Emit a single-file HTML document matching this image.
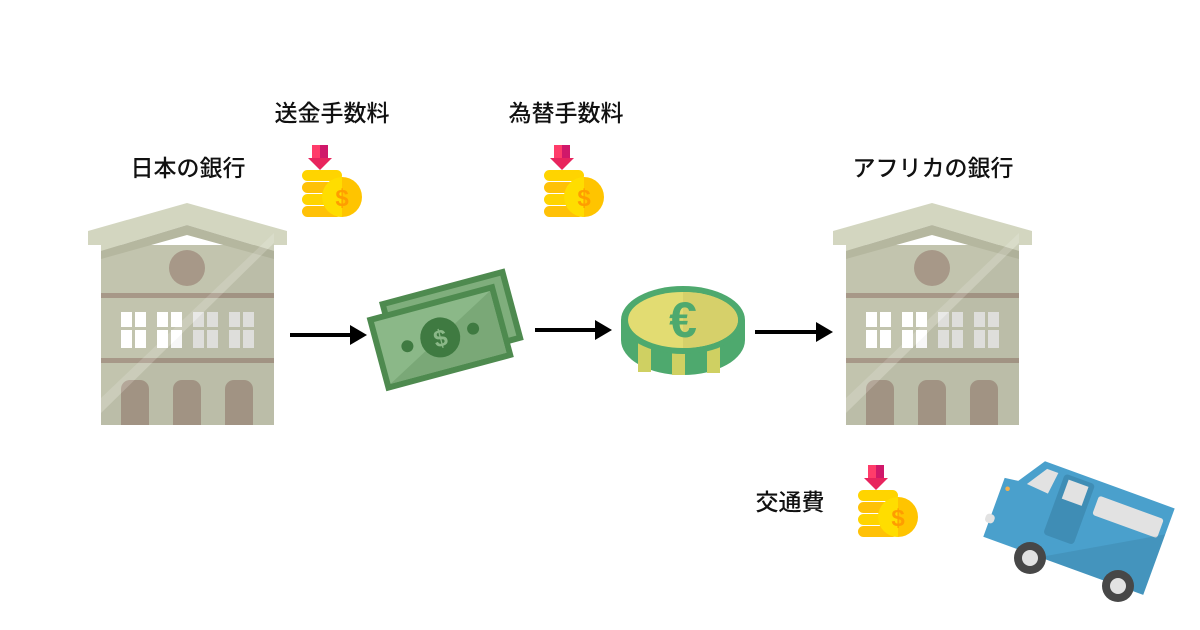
<!DOCTYPE html>
<html><head><meta charset="utf-8"><style>
body{margin:0;background:#fff;}
svg{display:block;}
text{font-family:"Liberation Sans","Noto Sans CJK JP",sans-serif;font-size:23px;font-weight:500;fill:#111;}
</style></head><body>
<svg width="1200" height="630" viewBox="0 0 1200 630" xmlns="http://www.w3.org/2000/svg">
<defs>
<g id="bank">
  <rect x="13" y="42" width="173" height="180" fill="#c2c4ae"/>
  <polygon points="0,28 99,0 199,28 199,42 186,42 186,48 99,22 13,48 13,42 0,42" fill="#d3d6c0"/>
  <polygon points="13,48 99,22 186,48 186,56 99,32 13,56" fill="#b5b79f"/>
  <circle cx="99" cy="65" r="18" fill="#a79888"/>
  <rect x="13" y="90" width="173" height="5" fill="#a79888"/>
  <g fill="#fff">
    <rect x="33" y="109" width="25" height="36"/><rect x="69" y="109" width="25" height="36"/>
    <rect x="105" y="109" width="25" height="36" fill="#e6e6e3"/><rect x="141" y="109" width="25" height="36" fill="#e6e6e3"/>
  </g>
  <g fill="#c2c4ae"><rect x="44" y="109" width="3" height="36"/><rect x="80" y="109" width="3" height="36"/><rect x="116" y="109" width="3" height="36"/><rect x="152" y="109" width="3" height="36"/>
  <rect x="33" y="124" width="133" height="3"/></g>
  <rect x="13" y="155" width="173" height="5" fill="#a79888"/>
  <path d="M33 222V186a9 9 0 0 1 9-9h10a9 9 0 0 1 9 9v36z" fill="#a79888"/>
  <path d="M85 222V186a9 9 0 0 1 9-9h10a9 9 0 0 1 9 9v36z" fill="#a79888"/>
  <path d="M137 222V186a9 9 0 0 1 9-9h10a9 9 0 0 1 9 9v36z" fill="#a79888"/>
  <polygon points="13,210 186,40 186,30 13,195" fill="#fff" opacity="0.15"/>
  <polygon points="13,222 13,210 186,40 186,222" fill="#000" opacity="0.03"/>
</g>
<g id="coins">
  <rect x="-8" y="-25" width="8" height="14" fill="#ff3c6a"/><rect x="0" y="-25" width="8" height="14" fill="#d0186a"/>
  <polygon points="-12,-12 12,-12 0,0" fill="#e8245e"/>
  <rect x="-18" y="0" width="40" height="11" rx="5.5" fill="#ffd400"/>
  <rect x="-18" y="12" width="40" height="11" rx="5.5" fill="#ffc107"/>
  <rect x="-18" y="24" width="40" height="11" rx="5.5" fill="#ffd400"/>
  <rect x="-18" y="36" width="40" height="11" rx="5.5" fill="#ffc107"/>
  <circle cx="22" cy="27" r="20" fill="#ffc400"/>
  <path d="M22 7a20 20 0 0 0 0 40z" fill="#ffdd00"/>
  <text x="22" y="36" text-anchor="middle" style="font-size:24px;font-weight:bold;fill:#ff9d00">$</text>
</g>
</defs>

<use href="#bank" x="88" y="203"/>
<use href="#bank" x="833" y="203"/>

<use href="#coins" x="320" y="170"/>
<use href="#coins" x="562" y="170"/>
<use href="#coins" x="876" y="490"/>

<text x="188" y="176" text-anchor="middle">日本の銀行</text>
<text x="332" y="121" text-anchor="middle">送金手数料</text>
<text x="566" y="121" text-anchor="middle">為替手数料</text>
<text x="933" y="176" text-anchor="middle">アフリカの銀行</text>
<text x="790" y="510" text-anchor="middle">交通費</text>

<g stroke="#000" stroke-width="4" fill="#000">
  <line x1="290" y1="335" x2="352" y2="335"/><polygon points="350,325 367,335 350,345" stroke="none"/>
  <line x1="535" y1="330" x2="597" y2="330"/><polygon points="595,320 612,330 595,340" stroke="none"/>
  <line x1="755" y1="332" x2="818" y2="332"/><polygon points="816,322 833,332 816,342" stroke="none"/>
</g>

<!-- money -->
<g transform="translate(445,332) rotate(-15)">
  <rect x="-56" y="-46" width="130" height="74" fill="#4e8a4f"/>
  <rect x="-50" y="-40" width="118" height="62" fill="#7fae7c"/>
  <rect x="-72" y="-34" width="132" height="76" fill="#4e8a4f"/>
  <rect x="-66" y="-28" width="120" height="64" fill="#8bb888"/>
  <polygon points="-66,36 54,-28 54,36" fill="#7aa877"/>
  <circle cx="-6" cy="4" r="20" fill="#3f7a41"/>
  <text x="-6" y="13" text-anchor="middle" style="font-size:24px;font-weight:bold;fill:#8bb888">$</text>
  <circle cx="-40" cy="4" r="6" fill="#3f7a41"/><circle cx="28" cy="4" r="6" fill="#3f7a41"/>
</g>

<!-- euro coin -->
<g>
  <path d="M621 320v20a62 35 0 0 0 124 0v-20z" fill="#4ea96e"/>
  <rect x="638" y="340" width="13" height="32" fill="#cfd062"/>
  <rect x="672" y="345" width="13" height="30" fill="#cfd062"/>
  <rect x="707" y="343" width="13" height="30" fill="#cfd062"/>
  <ellipse cx="683" cy="320" rx="62" ry="34" fill="#4ea96e"/>
  <ellipse cx="683" cy="320" rx="55" ry="28" fill="#e2dc72"/>
  <path d="M683 292a55 28 0 0 1 0 56z" fill="#d6d06a"/>
  <text x="683" y="337" text-anchor="middle" style="font-size:50px;font-weight:bold;fill:#4ea96e">€</text>
</g>

<!-- bus -->
<g transform="translate(1078,532) rotate(20) scale(0.92)">
  <polygon points="-80,-30 -60,-60 90,-60 90,40 -95,40 -95,-28" fill="#4aa0cc"/>
  <polygon points="-70,-30 -55,-53 -42,-53 -45,-28" fill="#e2e2e2"/>
  <rect x="-35" y="-55" width="35" height="70" rx="4" fill="#3f8db5"/>
  <rect x="-29" y="-50" width="23" height="22" fill="#e2e2e2"/>
  <rect x="8" y="-45" width="75" height="22" rx="3" fill="#e2e2e2"/>
  <polygon points="-30,40 90,-30 90,40" fill="#000" opacity="0.07"/>
  <rect x="-100" y="14" width="10" height="10" rx="4" fill="#e2e2e2"/>
  <circle cx="-88" cy="-18" r="2.5" fill="#f3b04f"/>
</g>
<circle cx="1030" cy="558" r="16" fill="#474747"/><circle cx="1030" cy="558" r="8" fill="#e2e2e2"/>
<circle cx="1118" cy="586" r="16" fill="#474747"/><circle cx="1118" cy="586" r="8" fill="#e2e2e2"/>
</svg>
</body></html>
